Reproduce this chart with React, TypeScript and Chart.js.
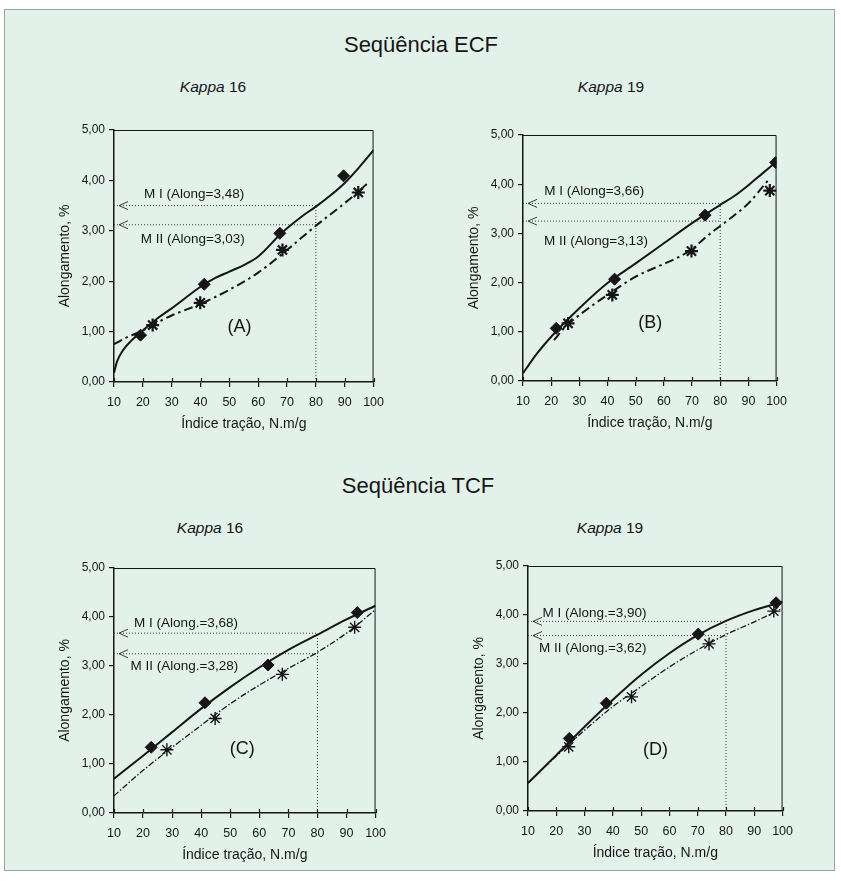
import React, { useEffect, useRef } from "react";
import { Chart, registerables } from "chart.js";
Chart.register(...registerables);

// ---------- shared axis ticks ----------
const xTickValues = [10, 20, 30, 40, 50, 60, 70, 80, 90, 100];
const yTickValues = [0, 1, 2, 3, 4, 5];
const xAxisTitle = "Índice tração, N.m/g";
const yAxisTitle = "Alongamento, %";

// ---------- Panel A (ECF, Kappa 16) ----------
const aMIx = [19.2, 41.3, 67.5, 89.6];
const aMIy = [0.93, 1.94, 2.95, 4.09];
const aMIIx = [23.4, 39.9, 68.4, 94.7];
const aMIIy = [1.13, 1.57, 2.62, 3.76];
const aFitMIx = [10, 11, 13, 16, 20, 25, 30, 40, 45, 50, 55, 60, 67.5, 70, 75, 80, 85, 90, 95, 100];
const aFitMIy = [0.18, 0.4, 0.62, 0.82, 1.02, 1.26, 1.46, 1.89, 2.06, 2.19, 2.32, 2.49, 2.92, 3.05, 3.28, 3.48, 3.7, 3.95, 4.26, 4.6];
const aFitMIIx = [10, 15, 20, 25, 30, 40, 50, 60, 70, 80, 90, 95, 98];
const aFitMIIy = [0.75, 0.9, 1.02, 1.18, 1.32, 1.55, 1.83, 2.17, 2.62, 3.1, 3.55, 3.79, 3.95];
const aArrows = [3.5, 3.12];
const aTexts = ["M I (Along=3,48)", "M II (Along=3,03)", "(A)"];

// ---------- Panel B (ECF, Kappa 19) ----------
const bMIx = [21.8, 42.5, 74.6, 99.7];
const bMIy = [1.07, 2.07, 3.37, 4.44];
const bMIIx = [26.0, 41.7, 69.8, 97.6];
const bMIIy = [1.17, 1.75, 2.64, 3.87];
const bFitMIx = [10, 15, 20, 25, 30, 40, 50, 60, 70, 80, 85, 90, 95, 100];
const bFitMIy = [0.16, 0.56, 0.9, 1.2, 1.48, 1.99, 2.39, 2.8, 3.21, 3.58, 3.76, 3.98, 4.22, 4.46];
const bFitMIIx = [21, 25, 30, 40, 50, 60, 65, 70, 75, 80, 85, 90, 97];
const bFitMIIy = [0.83, 1.1, 1.34, 1.75, 2.12, 2.38, 2.51, 2.68, 2.93, 3.15, 3.37, 3.61, 4.08];
const bArrows = [3.61, 3.25];
const bTexts = ["M I (Along=3,66)", "M II (Along=3,13)", "(B)"];

// ---------- Panel C (TCF, Kappa 16) ----------
const cMIx = [22.8, 41.3, 63.0, 93.7];
const cMIy = [1.34, 2.25, 3.02, 4.09];
const cMIIx = [28.2, 44.8, 67.9, 92.8];
const cMIIy = [1.29, 1.93, 2.83, 3.79];
const cFitMIx = [10, 20, 30, 40, 50, 60, 70, 80, 90, 100];
const cFitMIy = [0.7, 1.17, 1.65, 2.13, 2.57, 2.97, 3.33, 3.64, 3.95, 4.23];
const cFitMIIx = [10, 20, 30, 40, 50, 60, 70, 80, 90, 100];
const cFitMIIy = [0.35, 0.87, 1.34, 1.79, 2.23, 2.61, 2.95, 3.28, 3.67, 4.15];
const cArrows = [3.67, 3.25];
const cTexts = ["M I (Along.=3,68)", "M II (Along.=3,28)", "(C)"];

// ---------- Panel D (TCF, Kappa 19) ----------
const dMIx = [24.6, 37.7, 70.2, 97.7];
const dMIy = [1.48, 2.2, 3.61, 4.25];
const dMIIx = [24.4, 46.6, 74.0, 96.9];
const dMIIy = [1.31, 2.33, 3.41, 4.08];
const dFitMIx = [10, 20, 30, 40, 50, 60, 70, 80, 90, 100];
const dFitMIy = [0.57, 1.14, 1.72, 2.27, 2.78, 3.22, 3.59, 3.88, 4.1, 4.27];
const dFitMIIx = [10, 20, 30, 40, 50, 60, 70, 80, 90, 100];
const dFitMIIy = [0.57, 1.12, 1.65, 2.13, 2.54, 2.94, 3.29, 3.6, 3.86, 4.14];
const dArrows = [3.87, 3.58];
const dTexts = ["M I (Along.=3,90)", "M II (Along.=3,62)", "(D)"];

const refX = 80;

type Panel = {
  miX: number[]; miY: number[]; miiX: number[]; miiY: number[];
  fitMIx: number[]; fitMIy: number[]; fitMIIx: number[]; fitMIIy: number[];
  arrows: number[]; texts: string[];
  textPos: number[][];
  dash: number[]; dashWidth: number; starWidth: number;
  box: { left: number; top: number; width: number; height: number };
};

const zip = (xs: number[], ys: number[]) => xs.map((x, i) => ({ x, y: ys[i] }));

const FONT = '"Liberation Sans", Arial, Helvetica, sans-serif';
const INK = "#161616";

const panels: Panel[] = [
  {
    miX: aMIx, miY: aMIy, miiX: aMIIx, miiY: aMIIy,
    fitMIx: aFitMIx, fitMIy: aFitMIy, fitMIIx: aFitMIIx, fitMIIy: aFitMIIy,
    arrows: aArrows, texts: aTexts,
    textPos: [[37.8, 3.72], [37.3, 2.84], [53.5, 1.1]],
    dash: [9, 4, 2.5, 4], dashWidth: 2, starWidth: 2.2,
    box: { left: 57, top: 118, width: 335, height: 315 },
  },
  {
    miX: bMIx, miY: bMIy, miiX: bMIIx, miiY: bMIIy,
    fitMIx: bFitMIx, fitMIy: bFitMIy, fitMIIx: bFitMIIx, fitMIIy: bFitMIIy,
    arrows: bArrows, texts: bTexts,
    textPos: [[35.3, 3.85], [35.9, 2.83], [55.2, 1.17]],
    dash: [9, 4, 2.5, 4], dashWidth: 2, starWidth: 2.2,
    box: { left: 466, top: 123, width: 329, height: 309 },
  },
  {
    miX: cMIx, miY: cMIy, miiX: cMIIx, miiY: cMIIy,
    fitMIx: cFitMIx, fitMIy: cFitMIy, fitMIIx: cFitMIIx, fitMIIy: cFitMIIy,
    arrows: cArrows, texts: cTexts,
    textPos: [[34.8, 3.88], [34.2, 2.99], [54.1, 1.3]],
    dash: [6, 2, 1.5, 2], dashWidth: 1.3, starWidth: 1.4,
    box: { left: 57, top: 556, width: 337, height: 308 },
  },
  {
    miX: dMIx, miY: dMIy, miiX: dMIIx, miiY: dMIIy,
    fitMIx: dFitMIx, fitMIy: dFitMIy, fitMIIx: dFitMIIx, fitMIIy: dFitMIIy,
    arrows: dArrows, texts: dTexts,
    textPos: [[33.5, 4.03], [32.9, 3.32], [55.1, 1.24]],
    dash: [6, 2, 1.5, 2], dashWidth: 1.3, starWidth: 1.4,
    box: { left: 471, top: 554, width: 330, height: 308 },
  },
];

function makePlugin(p: Panel) {
  return {
    id: "decor",
    afterDatasetsDraw(chart: any) {
      const { ctx, chartArea } = chart;
      const xs = chart.scales.x;
      const ys = chart.scales.y;
      ctx.save();
      ctx.strokeStyle = INK;
      ctx.lineWidth = 1;
      ctx.setLineDash([]);
      ctx.beginPath();
      ctx.moveTo(chartArea.left, chartArea.top + 0.5);
      ctx.lineTo(chartArea.right - 0.5, chartArea.top + 0.5);
      ctx.lineTo(chartArea.right - 0.5, chartArea.bottom);
      ctx.stroke();
      ctx.lineWidth = 1.2;
      ctx.beginPath();
      xTickValues.forEach((v) => {
        const px = Math.round(xs.getPixelForValue(v)) + 0.5;
        ctx.moveTo(px, chartArea.bottom);
        ctx.lineTo(px, chartArea.bottom - 4);
      });
      ctx.stroke();
      ctx.strokeStyle = "#3a3a3a";
      ctx.lineWidth = 1;
      p.arrows.forEach((v) => {
        const py = ys.getPixelForValue(v);
        const tip = xs.getPixelForValue(10) + 5;
        ctx.beginPath();
        ctx.moveTo(tip + 9, py - 4);
        ctx.lineTo(tip, py);
        ctx.lineTo(tip + 9, py + 4);
        ctx.stroke();
      });
      ctx.fillStyle = INK;
      ctx.textAlign = "center";
      ctx.textBaseline = "middle";
      p.texts.forEach((t, i) => {
        const [dx, dy] = p.textPos[i];
        ctx.font = i === 2 ? `18px ${FONT}` : `13.5px ${FONT}`;
        ctx.fillText(t, xs.getPixelForValue(dx), ys.getPixelForValue(dy));
      });
      ctx.restore();
    },
  };
}

function makeConfig(p: Panel): any {
  const dotted = { borderColor: "#3a3a3a", borderWidth: 1, borderDash: [1, 2], pointRadius: 0, tension: 0, fill: false };
  return {
    type: "line",
    data: {
      datasets: [
        {
          label: "M I",
          data: zip(p.miX, p.miY),
          showLine: false,
          pointStyle: "rectRot",
          pointRadius: 6,
          backgroundColor: INK,
          borderColor: INK,
          borderWidth: 1,
        },
        {
          label: "M II",
          data: zip(p.miiX, p.miiY),
          showLine: false,
          pointStyle: "star",
          pointRadius: 6.5,
          borderColor: INK,
          borderWidth: p.starWidth,
        },
        {
          label: "M I ajuste",
          data: zip(p.fitMIx, p.fitMIy),
          borderColor: INK,
          borderWidth: 2,
          pointRadius: 0,
          tension: 0.4,
          cubicInterpolationMode: "monotone",
          fill: false,
        },
        {
          label: "M II ajuste",
          data: zip(p.fitMIIx, p.fitMIIy),
          borderColor: INK,
          borderWidth: p.dashWidth,
          borderDash: p.dash,
          pointRadius: 0,
          tension: 0.4,
          cubicInterpolationMode: "monotone",
          fill: false,
        },
        { label: "v", data: [{ x: refX, y: 0 }, { x: refX, y: p.arrows[0] }], ...dotted },
        { label: "h1", data: [{ x: 10, y: p.arrows[0] }, { x: refX, y: p.arrows[0] }], ...dotted },
        { label: "h2", data: [{ x: 10, y: p.arrows[1] }, { x: refX, y: p.arrows[1] }], ...dotted },
      ],
    },
    options: {
      animation: false,
      responsive: false,
      maintainAspectRatio: false,
      devicePixelRatio: 1,
      layout: { padding: { top: 12, right: 16, left: 0, bottom: 0 } },
      plugins: { legend: { display: false }, tooltip: { enabled: false }, title: { display: false } },
      scales: {
        x: {
          type: "linear",
          min: 10,
          max: 100,
          afterBuildTicks: (s: any) => { s.ticks = xTickValues.map((v) => ({ value: v })); },
          afterFit: (s: any) => { s.height = 51; },
          ticks: { autoSkip: false, maxRotation: 0, padding: 8, color: INK, font: { family: FONT, size: 12.5 } },
          grid: { drawOnChartArea: false, tickLength: 5, color: INK, lineWidth: 1.2 },
          border: { color: INK, width: 1.5 },
          title: { display: true, text: xAxisTitle, color: INK, padding: 0, font: { family: FONT, size: 14 } },
        },
        y: {
          type: "linear",
          min: 0,
          max: 5,
          afterBuildTicks: (s: any) => { s.ticks = yTickValues.map((v) => ({ value: v })); },
          afterFit: (s: any) => { s.width = 57; },
          ticks: {
            padding: 4,
            color: INK,
            font: { family: FONT, size: 12 },
            callback: (v: number) => v.toFixed(2).replace(".", ","),
          },
          grid: { drawOnChartArea: false, tickLength: 5, color: INK, lineWidth: 1.2 },
          border: { color: INK, width: 1.5 },
          title: { display: true, text: yAxisTitle, color: INK, padding: 0, font: { family: FONT, size: 14 } },
        },
      },
    },
    plugins: [makePlugin(p)],
  };
}

function PanelChart({ p }: { p: Panel }) {
  const ref = useRef<HTMLCanvasElement | null>(null);
  useEffect(() => {
    if (!ref.current) return;
    const chart = new Chart(ref.current, makeConfig(p));
    return () => chart.destroy();
  }, [p]);
  return (
    <canvas
      ref={ref}
      width={p.box.width}
      height={p.box.height}
      style={{ position: "absolute", left: p.box.left, top: p.box.top, width: p.box.width, height: p.box.height, display: "block" }}
    />
  );
}

const textStyle = (cx: number, cy: number, size: number): React.CSSProperties => ({
  position: "absolute",
  left: cx,
  top: cy,
  transform: "translate(-50%, -50%)",
  whiteSpace: "nowrap",
  fontFamily: FONT,
  fontSize: size,
  lineHeight: 1,
  color: INK,
});

export default function App() {
  return (
    <div style={{ position: "absolute", left: 0, top: 0, width: 841, height: 881, background: "#ffffff", overflow: "hidden" }}>
      <div
        style={{
          position: "absolute",
          left: 4,
          top: 9,
          width: 831,
          height: 862,
          background: "#e3f1eb",
          border: "1px solid #8fa89e",
          boxSizing: "border-box",
        }}
      />
      <div style={textStyle(421, 45, 22)}>Seqüência ECF</div>
      <div style={textStyle(213, 87, 15.5)}><i>Kappa</i> 16</div>
      <div style={textStyle(611, 87, 15.5)}><i>Kappa</i> 19</div>
      <div style={textStyle(418, 486, 22)}>Seqüência TCF</div>
      <div style={textStyle(210, 528, 15.5)}><i>Kappa</i> 16</div>
      <div style={textStyle(610, 528, 15.5)}><i>Kappa</i> 19</div>
      {panels.map((p, i) => (
        <PanelChart key={i} p={p} />
      ))}
    </div>
  );
}
